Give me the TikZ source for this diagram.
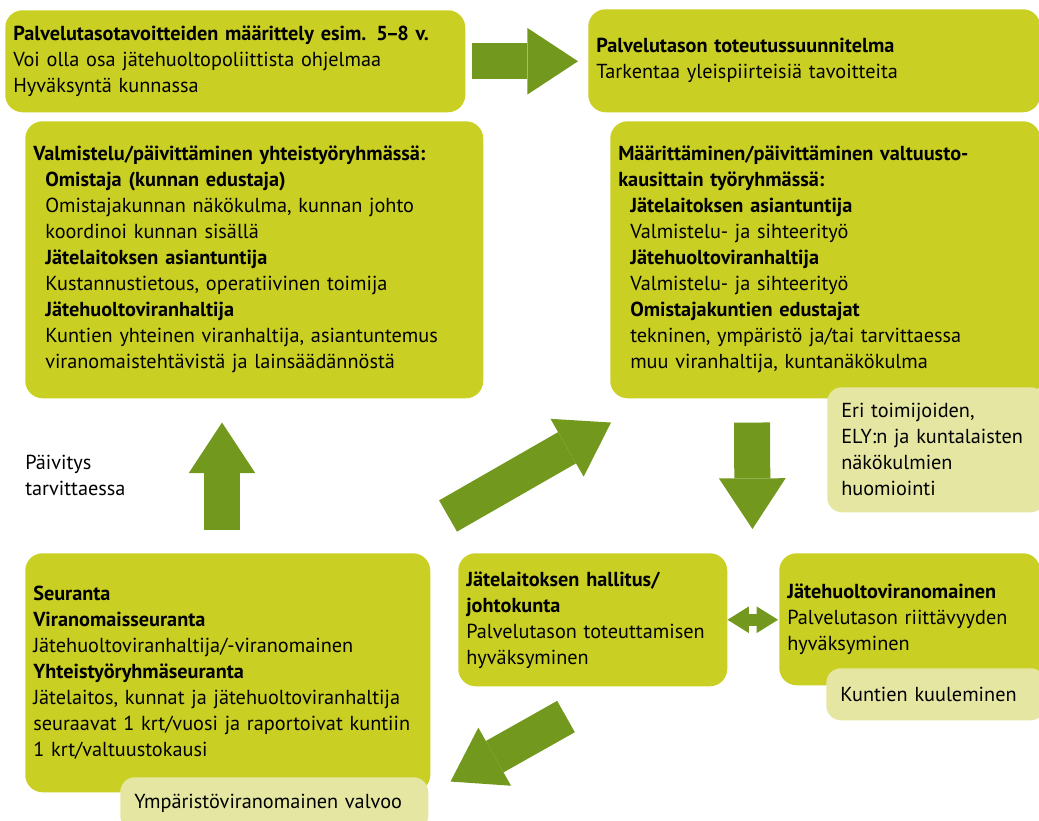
\documentclass[tikz,border=0pt]{standalone}
\usepackage{fontspec}
\setmainfont{PT Sans}
\usetikzlibrary{arrows.meta,calc}
\definecolor{boxgreen}{HTML}{CAD023}
\definecolor{palegreen}{HTML}{E5E6A2}
\definecolor{arrowgreen}{HTML}{72991D}
\newcommand{\ind}{\hspace*{9pt}}

\begin{document}
\begin{tikzpicture}[x=0.75pt,y=-0.75pt,
    txt/.style={font=\fontsize{15.2}{19.5}\selectfont},
    gbox/.style 2 args={txt,fill=boxgreen,rounded corners=13pt,anchor=north west,
      align=left,inner xsep=6pt,inner ysep=0pt,text width=#1,minimum height=#2},
    pbox/.style 2 args={gbox={#1}{#2},fill=palegreen,rounded corners=11pt,inner xsep=10.5pt},
    bigarrow/.style={draw=arrowgreen,line width=27pt,
      -{Triangle[length=38pt 0 0,width=50pt 0 0,line width=0pt]}},
    duoarrow/.style={draw=arrowgreen,line width=9pt,
      {Triangle[length=16pt 0 0,width=20pt 0 0,line width=0pt]}-{Triangle[length=16pt 0 0,width=20pt 0 0,line width=0pt]}}]
    \clip (0,0) rectangle (1039,821);
    \node[gbox={333pt}{76.5pt}] (goals) at (5,10)
      {\textbf{Palvelutasotavoitteiden määrittely esim. 5\kern-1.5pt–\kern-1.5pt8 v.}\\
       Voi olla osa jätehuoltopoliittista ohjelmaa\\
       Hyväksyntä kunnassa};
    \node[gbox={327pt}{77.25pt}] (plan) at (588,9)
      {\textbf{Palvelutason toteutussuunnitelma}\\
       Tarkentaa yleispiirteisiä tavoitteita};
    \node[gbox={331.5pt}{207.75pt}] (prep) at (25,121)
      {\textbf{Valmistelu/päivittäminen yhteistyöryhmässä:}\\
       \ind\textbf{Omistaja (kunnan edustaja)}\\
       \ind Omistajakunnan näkökulma, kunnan johto\\
       \ind koordinoi kunnan sisällä\\
       \ind\textbf{Jätelaitoksen asiantuntija}\\
       \ind Kustannustietous, operatiivinen toimija\\
       \ind\textbf{Jätehuoltoviranhaltija}\\
       \ind Kuntien yhteinen viranhaltija, asiantuntemus\\
       \ind viranomaistehtävistä ja lainsäädännöstä};
    \node[gbox={310.5pt}{207.75pt}] (define) at (610,121)
      {\textbf{Määrittäminen/päivittäminen valtuusto-}\\
       \textbf{kausittain työryhmässä:}\\
       \ind\textbf{Jätelaitoksen asiantuntija}\\
       \ind Valmistelu- ja sihteerityö\\
       \ind\textbf{Jätehuoltoviranhaltija}\\
       \ind Valmistelu- ja sihteerityö\\
       \ind\textbf{Omistajakuntien edustajat}\\
       \ind tekninen, ympäristö ja/tai tarvittaessa\\
       \ind muu viranhaltija, kuntanäkökulma};
    \node[pbox={142.5pt}{93.75pt}] (views) at (827,387)
      {Eri toimijoiden,\\ELY:n ja kuntalaisten\\näkökulmien\\huomiointi};
    \node[gbox={291.75pt}{179.25pt}] (follow) at (25,553)
      {\textbf{Seuranta}\\
       \textbf{Viranomaisseuranta}\\
       Jätehuoltoviranhaltija/-viranomainen\\
       \textbf{Yhteistyöryhmäseuranta}\\
       Jätelaitos, kunnat ja jätehuoltoviranhaltija\\
       seuraavat 1 krt/vuosi ja raportoivat kuntiin\\
       1 krt/valtuustokausi};
    \node[pbox={210pt}{39.75pt}] (supervise) at (120,777) {Ympäristöviranomainen valvoo};
    \node[gbox={189.75pt}{99.75pt}] (board) at (458,553)
      {\textbf{Jätelaitoksen hallitus/}\\
       \textbf{johtokunta}\\
       Palvelutason toteuttamisen\\
       hyväksyminen};
    \node[gbox={183.75pt}{99pt}] (authority) at (779,553)
      {\textbf{Jätehuoltoviranomainen}\\
       Palvelutason riittävyyden\\
       hyväksyminen};
    \node[pbox={143.25pt}{39pt}] (hearing) at (826,668) {Kuntien kuuleminen};
    \node[txt,anchor=west,align=left,inner sep=0pt] (update) at (25,475) {Päivitys\\tarvittaessa};
    \draw[bigarrow,shorten <=4.5pt,shorten >=7.5pt] (goals.east) -- (goals.east -| plan.west);
    \draw[bigarrow,shorten <=17.25pt,shorten >=18pt] ($(follow.north west)+(197,0)$) -- ($(prep.south west)+(197,0)$);
    \draw[bigarrow,shorten <=18pt,shorten >=18pt] ($(define.south west)+(142,0)$) -- ($(board.north east)+(25,0)$);
    \draw[bigarrow] ($(follow.north east)+(17.5,-37)$) -- ($(define.south west)+(1,24)$);
    \draw[bigarrow] ($(board.south west)+(108,30)$) -- ($(follow.south east)+(20,-11)$);
    \draw[duoarrow,shorten >=0.75pt] (board.east) -- (board.east -| authority.west);
  \end{tikzpicture}
\end{document}
